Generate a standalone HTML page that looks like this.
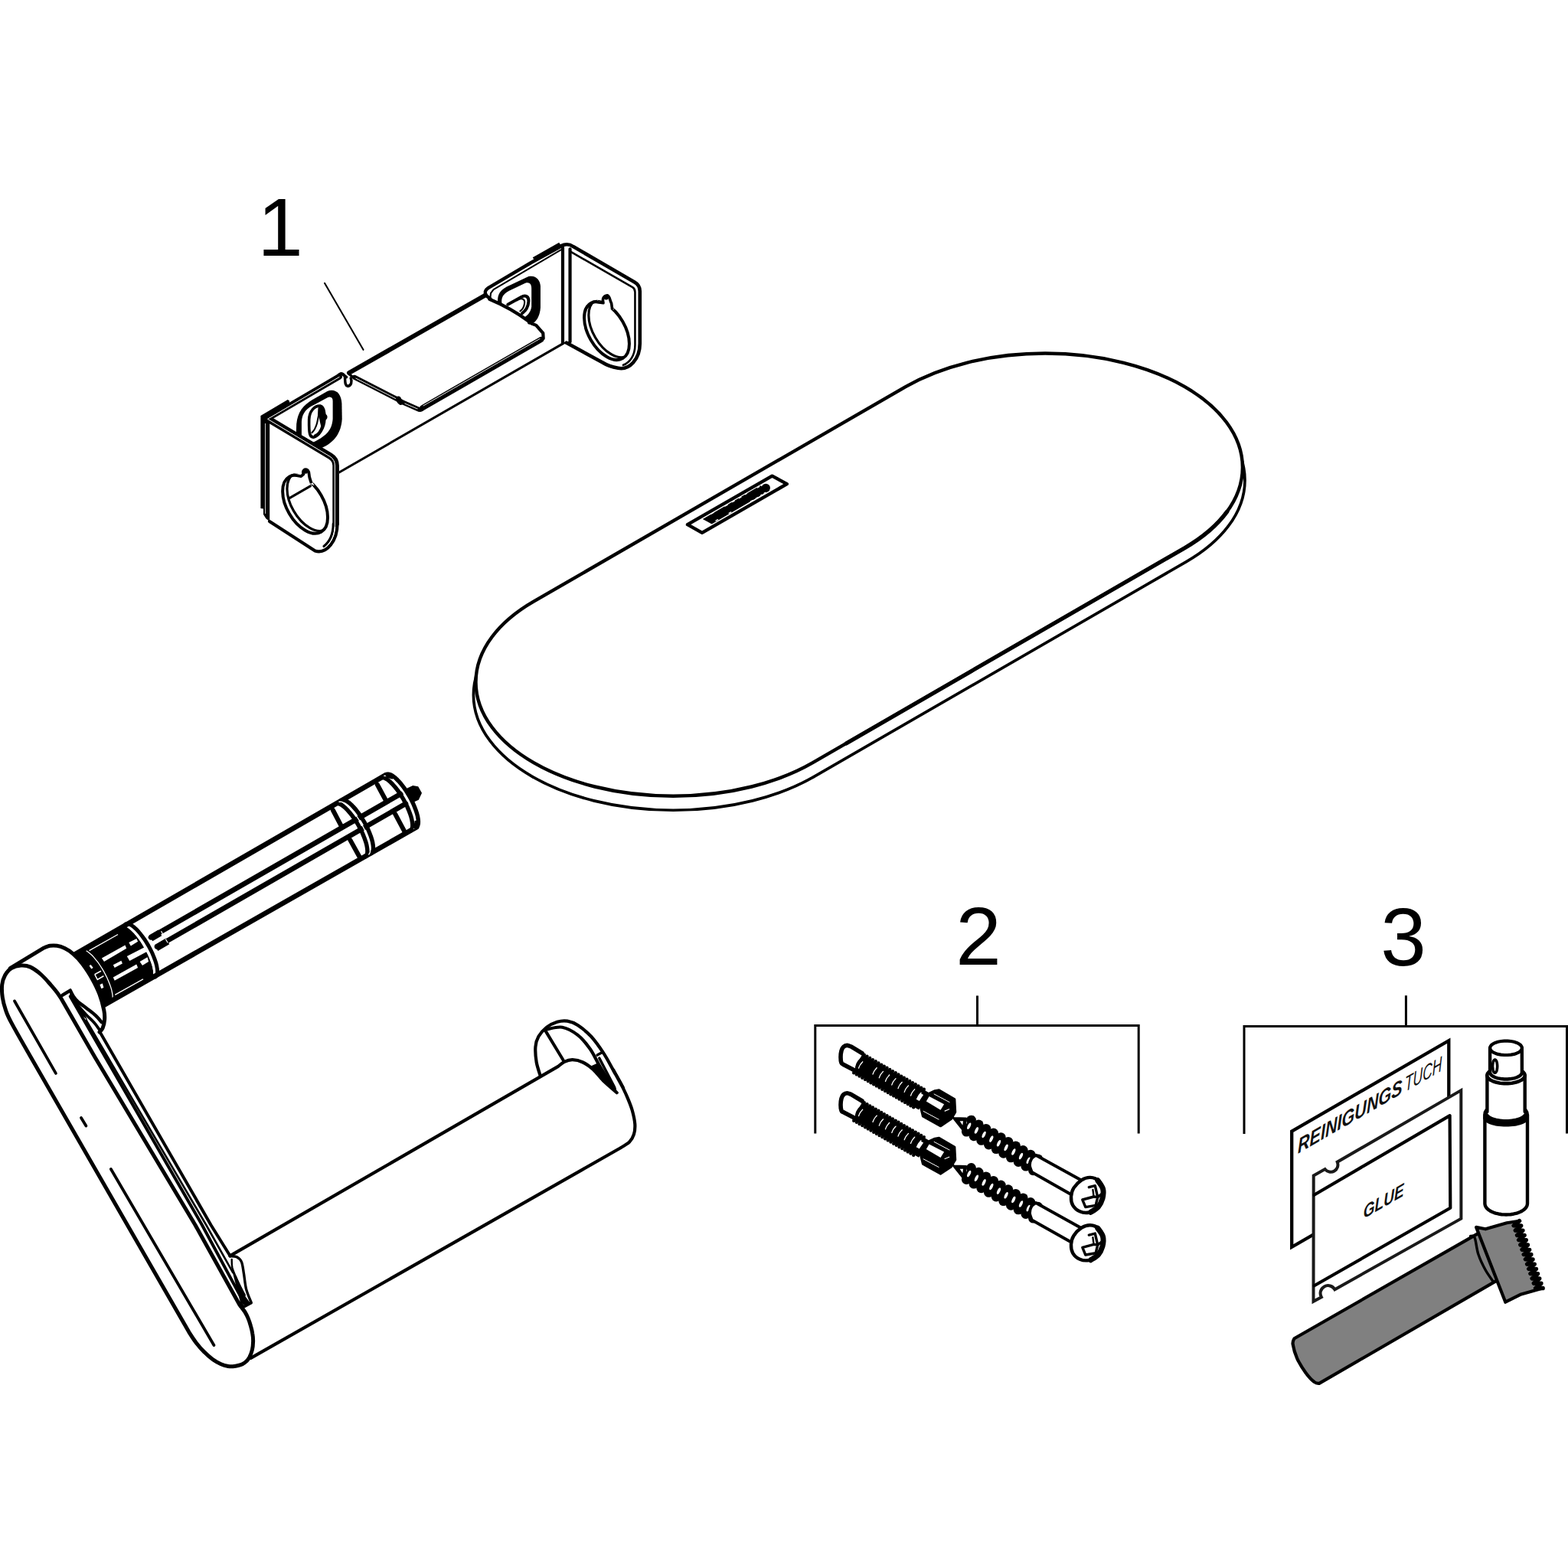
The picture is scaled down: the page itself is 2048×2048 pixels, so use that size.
<!DOCTYPE html>
<html><head><meta charset="utf-8"><title>Exploded view</title>
<style>
html,body{margin:0;padding:0;background:#fff;}
body{width:2048px;height:2048px;overflow:hidden;font-family:"Liberation Sans",sans-serif;}
svg{display:block;position:absolute;left:0;top:0;}
path,line,polyline,polygon,circle,ellipse,rect{vector-effect:non-scaling-stroke;}
.s{fill:none;stroke:#000;stroke-linecap:round;stroke-linejoin:round;}
.k{stroke-width:4.2;}
.m{stroke-width:3.1;}
.n{stroke-width:2.1;}
.w{fill:none;stroke:#fff;stroke-width:1;stroke-linecap:round;}
.f{fill:#000;stroke:none;}
.wf{fill:#fff;stroke:none;}
</style></head><body>
<svg width="2048" height="2048" viewBox="0 0 2048 2048">
<rect x="0" y="0" width="2048" height="2048" fill="#fff"/>
<!--LABELS-->
<g id="labels">
<text x="366" y="334" font-family="'Liberation Sans',sans-serif" font-size="107" fill="#000" text-anchor="middle">1</text>
<path class="s n" d="M424 369.8 L474.5 456.8"/>
</g>
<!--BRACKET-->
<g id="bracket">
<!-- web top edge (left part) + bottom line -->
<path class="s" style="stroke-width:7.6" d="M443.1 491.9 L349 547"/>
<path class="s m" d="M443 617 L736 448.3"/>
<path class="s" style="stroke-width:3.6" d="M441.8 490.2 Q445 486.6 448.4 489.6 L452.5 492.5"/>
<!-- left D slot -->
<g transform="translate(330,480) scale(0.067288)">
<path class="f" d="M845 1270 L850 1100 C870 850 1000 720 1150 630 L1450 460 C1600 400 1720 500 1730 700 L1735 1000 C1720 1250 1600 1450 1340 1560 Z"/>
<path class="wf" d="M950 1320 L950 1050 C960 880 1050 790 1200 720 L1440 590 C1520 550 1555 590 1555 650 L1555 1000 C1540 1200 1450 1320 1180 1450 Z"/>
<path class="s" style="stroke-width:3.6" d="M1095 1010 C1100 850 1200 740 1310 745 C1380 760 1400 850 1395 1000 C1390 1180 1280 1340 1180 1355 C1110 1350 1090 1300 1095 1010 Z"/>
<path class="f" d="M1290 760 C1380 740 1420 850 1410 900 C1470 930 1460 1010 1400 1030 C1400 1100 1370 1150 1340 1180 C1300 1050 1270 900 1290 760 Z"/>
<path class="s n" d="M1285 790 C1290 1000 1230 1200 1150 1265"/>
<path class="s n" d="M1350 1120 C1320 1220 1260 1300 1200 1320"/>
</g>
<!-- right D slot -->
<g transform="translate(600,290) scale(0.134576)">
<path class="f" d="M372 775 C368 700 400 660 460 628 L672 528 C740 512 782 560 787 620 L787 830 C782 900 760 945 722 978 L660 960 Z"/>
<path class="wf" d="M412 790 C402 730 430 695 480 668 L640 592 C690 578 700 612 700 650 L700 820 C695 870 665 905 625 930 L500 880 Z"/>
<path class="s" style="stroke-width:4" d="M470 800 L600 728 C640 705 675 720 672 770 C668 820 645 860 610 885"/>
<path class="s n" d="M560 760 C600 730 640 745 632 790 C628 820 610 850 590 865"/>
</g>
<!-- tongue -->
<path class="wf" d="M455 487.5 L634 385.5 L640 391 L690.5 419.5 L699.5 423.5 L709.3 434.7 L709.7 443 L551 536 L526.1 526 L520.1 522.5 L461 493 Z"/>
<path class="s" style="stroke-width:6" d="M456 487 L634 385.5"/>
<path class="s" style="stroke-width:7.4" d="M552 532.6 L706.5 443.6"/>
<path class="w" style="stroke-width:.9" d="M553 529.9 L705 442.5"/>
<g transform="translate(440,380) scale(0.134576)">
<path class="s" style="stroke-width:6" d="M170 838 L595 1055 L640 1082 L795 1150"/>
<path class="w" style="stroke-width:.9" d="M185 848 L585 1052 M660 1093 L790 1148"/>
<path class="f" d="M575 1030 C600 1010 630 1030 625 1060 C650 1080 640 1115 610 1105 C585 1090 565 1060 575 1030 Z"/>
<path class="s" style="stroke-width:3.4" d="M40 802 Q62 800 75 825 C85 860 70 915 105 925 C140 920 150 880 135 845"/>
<path class="s" style="stroke-width:3.4" d="M125 812 L150 832 L165 836"/>
<path class="s" style="stroke-width:3.6" d="M795 1150 Q812 1170 835 1150"/>
</g>
<g transform="translate(600,290) scale(0.134576)">
<path class="s" style="stroke-width:4.4" d="M292 748 Q500 835 672 962"/>
<circle class="f" cx="682" cy="972" r="22"/>
<path class="s k" d="M700 985 L745 1002 L812 1078 L815 1130"/>
<!-- web upper right -->
<path class="s" style="stroke-width:4.4" d="M300 745 L262 715 Q232 672 280 640 L700 392 L992 232"/>
<path class="s" style="stroke-width:5.5;stroke-linecap:butt" d="M722 362 L978 216"/>
<path class="s n" d="M300 735 L305 690 L332 655 L985 270"/>
<circle class="wf" cx="287" cy="668" r="7"/>
<!-- fold -->
<path class="s k" d="M1003 240 L1003 1168 M1074 262 L1074 1162"/>
<path class="s n" d="M1003 1168 L1040 1178 L1074 1162"/>
<!-- right flange -->
<path class="s" style="stroke-width:4.6" d="M985 232 Q1050 200 1105 238 L1700 583 Q1752 612 1752 672 L1752 1180 C1752 1330 1650 1440 1540 1418 Q1450 1402 1390 1364 L1040 1172"/>
<path class="s" style="stroke-width:2.6" d="M1085 290 L1680 633 Q1705 648 1705 680 L1705 1195 C1705 1300 1650 1365 1590 1388"/>
</g>
<!-- right hole -->
<clipPath id="hR"><circle r="34" transform="matrix(0.866,0.5,0,1,792.5,432)"/></clipPath>
<g clip-path="url(#hR)"><circle class="s" style="stroke-width:3.2" r="34" transform="matrix(0.866,0.5,0,1,798.3,428.7)"/></g>
<circle class="s" style="stroke-width:4" r="34" transform="matrix(0.866,0.5,0,1,792.5,432)"/>
<g transform="translate(600,290) scale(0.134576)">
<path class="wf" d="M1335 760 L1395 780 C1385 745 1400 712 1435 708 C1462 718 1458 750 1478 790 L1500 850 L1400 830 Z"/>
<path class="s" style="stroke-width:3.6" d="M1330 776 L1397 786 C1385 745 1400 714 1435 711 C1462 720 1456 750 1476 790 L1482 835"/>
<circle class="f" cx="1425" cy="735" r="20"/>
</g>
<!-- left flange -->
<path class="wf" d="M352.2 548 L437 597 L443 604 L443 690 L430 712 L411 720 L352.2 682 Z"/>
<path class="f" d="M340.4 543 L375.8 522 L378 523.4 L378 527 L352.2 542 L352.2 681 L347.5 677.5 L344 672 L344 664.5 L340.4 664 Z"/>
<path class="w" style="stroke-width:.8" d="M346.5 553.4 L346.5 670.5"/>
<path class="s" style="stroke-width:4.2" d="M440.6 684 C440.6 706 427 724 411.5 719.5 L352 681"/>
<path class="s" style="stroke-width:8.6" d="M349.4 546.8 L431.4 595.7 Q438.6 600 438.6 608 L438.6 684"/>
<path class="s" style="stroke-width:3.2" d="M435.3 684 C435.3 698 430 708 423 713.5"/>
<path class="w" d="M443.1 492.4 L349.6 547.3 L431 596.3 Q437.4 600.5 437.4 608 L437.4 686 C437.4 698 433 707 428 712"/>
<clipPath id="hL"><circle r="34" transform="matrix(0.866,0.5,0,1,398.6,658.7)"/></clipPath>
<path class="s m" d="M378.5 650.3 L405.4 634.9" clip-path="url(#hL)"/>
<g clip-path="url(#hL)"><circle class="s" style="stroke-width:3.2" r="34" transform="matrix(0.866,0.5,0,1,404.4,655.4)"/></g>
<circle class="s" style="stroke-width:4" r="34" transform="matrix(0.866,0.5,0,1,398.6,658.7)"/>
<g transform="translate(330,470) scale(0.134576)">
<path class="wf" d="M400 1105 L492 1108 C480 1075 505 1050 535 1070 C550 1085 545 1110 552 1140 L600 1220 L480 1170 Z"/>
<path class="s" style="stroke-width:3.8" d="M400 1118 L470 1130 L494 1110 C480 1075 505 1052 535 1072 C550 1087 545 1112 552 1142 L566 1186"/>
<circle class="f" cx="515" cy="1085" r="20"/>
</g>
</g>
<!--SHELF-->
<g id="shelf">
<path class="s" style="stroke-width:3.7;fill:#fff" transform="matrix(0.866,-0.5,0.866,0.5,1122.2,767.4)" d="M-280.5 -213 L280.5 -213 A213 213 0 0 1 280.5 213 L-280.5 213 A213 213 0 0 1 -280.5 -213 Z"/>
<path class="s" style="stroke-width:4.4;fill:#fff" transform="matrix(0.866,-0.5,0.866,0.5,1122.2,750.65)" d="M-280.5 -210.5 L280.5 -210.5 A210.5 210.5 0 0 1 280.5 210.5 L-280.5 210.5 A210.5 210.5 0 0 1 -280.5 -210.5 Z"/>
<path class="s" style="stroke-width:5.2" transform="matrix(0.866,-0.5,0.866,0.5,1122.2,750.65)" d="M-230 210.5 L280.5 210.5 A210.5 210.5 0 0 0 360 195"/>
<!-- logo plate -->
<path class="s" style="stroke-width:4.4" d="M898 685.2 L1008.5 621.6 L1027.8 632.1 L917 695.9 Z"/>
<path class="f" d="M917.8 677.9 L993 634.2 L1005.5 640.3 L929.7 684.5 Z"/>
<circle class="f" cx="1000.3" cy="637.3" r="5.6"/>
<g transform="translate(880,600) scale(0.087992)">
<path class="w" style="stroke-width:1.3" d="M555 810 L590 790 M760 695 L800 672 M870 632 L900 615 M970 575 L1000 560 M1060 520 L1085 505 M1240 420 L1270 405 M625 910 L655 893 M820 800 L850 783 M1140 625 L1170 608 M1220 580 L1245 566 M1290 535 L1310 524 M1340 503 L1360 492"/>
</g>
</g>
<!--HOLDER-->
<g id="holder">
<path class="wf" d="M95.0 1248.1 L504.0 1012.2 L504.8 1011.6 L506.3 1011.1 L508.2 1011.2 L510.3 1011.9 L512.7 1013.2 L515.3 1015.0 L518.0 1017.4 L520.8 1020.3 L523.7 1023.6 L526.6 1027.3 L529.5 1031.3 L532.2 1035.6 L534.9 1040.0 L537.3 1044.6 L539.6 1049.2 L541.5 1053.7 L543.2 1058.1 L544.6 1062.3 L545.6 1066.2 L546.2 1069.8 L546.5 1072.9 L546.4 1075.6 L545.9 1077.8 L545.0 1079.5 L543.8 1080.6 L130.0 1316.1 Z"/>
<path class="f" d="M95.0 1248.1 L158.7 1209.9 L160.2 1209.4 L162.1 1209.5 L164.2 1210.2 L166.6 1211.5 L169.2 1213.4 L171.9 1215.8 L174.7 1218.6 L177.6 1221.9 L180.5 1225.6 L183.4 1229.6 L186.1 1233.9 L188.8 1238.4 L191.2 1242.9 L193.5 1247.5 L195.4 1252.0 L197.1 1256.4 L198.5 1260.6 L199.5 1264.5 L200.1 1268.1 L200.4 1271.3 L200.3 1274.0 L199.8 1276.2 L198.9 1277.8 L197.7 1278.9 L130.0 1316.1 Z"/>
<path class="w" style="stroke-width:1.4;stroke-linecap:butt" d="M116.5 1241.6 L154.0 1220.5"/>
<path class="w" style="stroke-width:1.5;stroke-linecap:butt" d="M150.3 1299.4 L187.0 1278.9"/>
<path class="wf" d="M132.9 1251.6 L163.4 1234.5 L165.2 1238.8 L136.0 1255.9 Z"/>
<path class="wf" d="M168.3 1231.1 L178.3 1226.1 L180.1 1229.8 L170.8 1235.4 Z"/>
<path class="wf" d="M147.8 1260.2 L158.4 1254.7 L159.9 1258.4 L149.7 1264.0 Z"/>
<path class="wf" d="M165.8 1249.1 L195.0 1234.0 L193.2 1242.2 L169.3 1255.0 Z"/>
<path class="wf" d="M182.6 1255.9 L192.5 1250.3 L194.1 1255.9 L186.0 1260.9 Z"/>
<path class="wf" d="M147.8 1276.4 L178.3 1259.6 L180.1 1264.0 L149.7 1280.7 Z"/>
<path class="wf" d="M116.5 1261.2 L118.6 1259.9 L121.7 1264.0 L119.3 1265.5 Z"/>
<path class="wf" d="M130.4 1286.0 L133.9 1284.5 L135.4 1290.1 L132.3 1291.3 Z"/>
<path class="w" style="stroke-width:1.6;stroke-linecap:butt" d="M123.6 1272.7 L132.0 1268.3"/>
<path class="w" style="stroke-width:1.6;stroke-linecap:butt" d="M123.9 1273.0 L127.3 1279.5 L135.4 1274.8"/>
<path class="w" style="stroke-width:1.3" d="M107.2 1240.0 L108.9 1240.1 L110.8 1240.7 L112.9 1241.8 L115.2 1243.4 L117.6 1245.4 L120.2 1247.8 L122.8 1250.6 L125.4 1253.8 L128.1 1257.2 L130.7 1261.0 L133.2 1264.9 L135.6 1268.9 L137.8 1273.1 L139.9 1277.3 L141.7 1281.4 L143.3 1285.5 L144.7 1289.4 L145.8 1293.1 L146.5 1296.5 L147.0 1299.6 L147.2 1302.4 L147.0 1304.8 L146.6 1306.8 L145.8 1308.3"/>
<path class="w" style="stroke-width:1.5" d="M159.9 1209.3 L161.5 1209.1 L163.4 1209.4 L165.5 1210.2 L167.9 1211.6 L170.4 1213.5 L173.0 1215.9 L175.8 1218.8 L178.6 1222.1 L181.4 1225.7 L184.2 1229.6 L186.8 1233.7 L189.4 1238.0 L191.7 1242.4 L193.9 1246.9 L195.8 1251.2 L197.5 1255.5 L198.9 1259.6 L199.9 1263.4 L200.6 1267.0 L200.9 1270.1 L200.9 1272.9 L200.6 1275.2 L199.9 1277.0 L198.8 1278.2"/>
<path class="s" style="stroke-width:5" d="M163.9 1207.0 L165.4 1206.5 L167.3 1206.6 L169.4 1207.3 L171.8 1208.5 L174.4 1210.4 L177.1 1212.8 L179.9 1215.6 L182.8 1219.0 L185.7 1222.7 L188.6 1226.7 L191.3 1230.9 L194.0 1235.4 L196.4 1239.9 L198.7 1244.5 L200.6 1249.1 L202.3 1253.5 L203.7 1257.6 L204.7 1261.6 L205.3 1265.1 L205.6 1268.3 L205.5 1271.0 L205.0 1273.2 L204.1 1274.9 L202.9 1276.0"/>
<path class="s" style="stroke-width:6.6" d="M95.0 1248.1 L504.0 1012.2"/>
<path class="s" style="stroke-width:6.6" d="M130.0 1316.1 L544.0 1080.4"/>
<path class="s" style="stroke-width:6.6" d="M197.0 1224.3 L523.5 1036.9"/>
<path class="s" style="stroke-width:6.6" d="M205.0 1236.5 L530.0 1049.7"/>
<path class="s" style="stroke-width:9;stroke-linecap:butt" d="M197.0 1225.3 L209.0 1218.4"/>
<path class="s" style="stroke-width:9;stroke-linecap:butt" d="M204.0 1238.1 L219.0 1229.4"/>
<path class="w" style="stroke-width:1.2" d="M210.8 1216.5 L212.7 1220.6"/>
<path class="w" style="stroke-width:1.2" d="M216.4 1226.8 L218.9 1231.0"/>
<path class="s" style="stroke-width:6" d="M434.8 1058.0 L445.6 1078.7"/>
<path class="s" style="stroke-width:6" d="M457.2 1096.9 L469.6 1119.3"/>
<path class="s" style="stroke-width:6" d="M492.8 1024.8 L503.6 1044.7"/>
<path class="s" style="stroke-width:6" d="M516.0 1062.9 L528.4 1086.1"/>
<path class="s" style="stroke-width:5.4" d="M438.2 1049.8 L439.7 1049.3 L441.6 1049.4 L443.7 1050.1 L446.1 1051.3 L448.7 1053.2 L451.4 1055.6 L454.2 1058.4 L457.1 1061.8 L460.0 1065.4 L462.9 1069.5 L465.6 1073.7 L468.3 1078.2 L470.7 1082.7 L473.0 1087.3 L474.9 1091.9 L476.6 1096.3 L478.0 1100.4 L479.0 1104.4 L479.6 1107.9 L479.9 1111.1 L479.8 1113.8 L479.3 1116.0 L478.4 1117.7 L477.2 1118.8"/>
<path class="s" style="stroke-width:5.4" d="M445.8 1045.4 L447.3 1044.9 L449.2 1045.0 L451.3 1045.7 L453.7 1047.0 L456.3 1048.8 L459.0 1051.2 L461.8 1054.1 L464.7 1057.4 L467.6 1061.1 L470.5 1065.1 L473.2 1069.4 L475.9 1073.8 L478.3 1078.4 L480.6 1083.0 L482.5 1087.5 L484.2 1091.9 L485.6 1096.1 L486.6 1100.0 L487.2 1103.6 L487.5 1106.7 L487.4 1109.4 L486.9 1111.7 L486.0 1113.3 L484.8 1114.4"/>
<path class="w" style="stroke-width:1.4" d="M443.0 1047.2 L444.6 1047.1 L446.6 1047.5 L448.7 1048.4 L451.0 1049.9 L453.5 1051.9 L456.1 1054.3 L458.8 1057.1 L461.5 1060.4 L464.3 1063.9 L467.0 1067.8 L469.6 1071.8 L472.1 1076.0 L474.4 1080.3 L476.5 1084.6 L478.4 1088.9 L480.1 1093.1 L481.4 1097.1 L482.5 1100.9 L483.2 1104.4 L483.6 1107.6 L483.7 1110.3 L483.4 1112.7 L482.8 1114.5 L481.8 1115.9"/>
<path class="s" style="stroke-width:5.4" d="M497.1 1016.0 L498.6 1015.5 L500.5 1015.6 L502.6 1016.3 L505.0 1017.6 L507.6 1019.4 L510.3 1021.8 L513.1 1024.7 L516.0 1028.0 L518.9 1031.7 L521.8 1035.7 L524.5 1040.0 L527.2 1044.4 L529.6 1049.0 L531.9 1053.6 L533.8 1058.1 L535.5 1062.5 L536.9 1066.7 L537.9 1070.6 L538.5 1074.2 L538.8 1077.3 L538.7 1080.0 L538.2 1082.3 L537.3 1083.9 L536.1 1085.0"/>
<path class="s" style="stroke-width:5.4" d="M504.7 1011.6 L506.2 1011.1 L508.1 1011.2 L510.2 1011.9 L512.6 1013.2 L515.2 1015.1 L517.9 1017.5 L520.7 1020.3 L523.6 1023.6 L526.5 1027.3 L529.4 1031.4 L532.1 1035.6 L534.8 1040.1 L537.2 1044.6 L539.5 1049.2 L541.4 1053.7 L543.1 1058.1 L544.5 1062.3 L545.5 1066.2 L546.1 1069.8 L546.4 1073.0 L546.3 1075.7 L545.8 1077.9 L544.9 1079.6 L543.7 1080.6"/>
<path class="w" style="stroke-width:1.4" d="M501.9 1013.4 L503.5 1013.3 L505.5 1013.7 L507.6 1014.7 L509.9 1016.2 L512.4 1018.1 L515.0 1020.5 L517.7 1023.4 L520.4 1026.6 L523.2 1030.2 L525.9 1034.0 L528.5 1038.0 L531.0 1042.3 L533.3 1046.6 L535.4 1050.9 L537.3 1055.2 L539.0 1059.4 L540.3 1063.4 L541.4 1067.2 L542.1 1070.7 L542.5 1073.8 L542.6 1076.6 L542.3 1078.9 L541.7 1080.8 L540.7 1082.2"/>
<path class="f" d="M529.3 1030.8 L539.2 1026.1 L546.2 1027.2 L551.0 1035.8 L546.8 1044.7 L539.4 1047.9 L534.2 1039.8 Z" stroke="#000" stroke-width="2" stroke-linejoin="round"/>
<path class="f" d="M541.7 1072.0 L546.6 1071.2 L547.1 1079.5 L543.3 1083.6 L540.0 1082.0 Z"/>
<path class="f" d="M501.9 1009.9 L506.9 1008.7 L514.3 1014.1 L512.7 1017.8 L505.2 1015.7 Z"/>
<path class="s" style="stroke-width:4.2;fill:#fff" d="M706.1 1406.3 C705.2 1403.2 701.9 1394.0 700.7 1387.5 C699.6 1381.0 699.0 1372.9 699.4 1367.3 C699.8 1361.7 701.0 1358.1 703.4 1353.8 C705.9 1349.6 710.2 1344.9 714.2 1341.7 C718.2 1338.5 723.2 1336.1 727.7 1334.7 C732.1 1333.4 736.6 1332.9 741.1 1333.6 C745.6 1334.4 749.4 1335.7 754.6 1339.0 C759.7 1342.4 766.5 1347.8 772.1 1353.8 C777.7 1359.9 783.4 1368.1 788.2 1375.4 C793.0 1382.7 796.7 1390.1 801.0 1397.6 C805.3 1405.1 811.7 1416.6 813.8 1420.4"/>
<path class="s" style="stroke-width:4.2" d="M714.2 1344.4 C717.6 1344.0 727.7 1340.5 734.4 1341.7 C741.1 1343.0 748.5 1347.1 754.6 1351.8 C760.6 1356.5 766.0 1363.4 770.7 1370.0 C775.4 1376.6 779.0 1385.0 782.8 1391.5 C786.6 1398.0 789.9 1403.2 793.6 1409.0 C797.3 1414.8 803.1 1423.6 805.0 1426.5"/>
<path class="s" style="stroke-width:4" d="M712.9 1347.1 L735.7 1384.8"/>
<path class="s" style="stroke-width:3.4" d="M780.1 1378.1 L787.5 1374.0"/>
<path class="s" style="stroke-width:3.4" d="M782.8 1382.1 L806.4 1427.2 L813.8 1421.8"/>
<path class="wf" d="M300.3 1640.4 L729.0 1392.9 C730.4 1391.8 733.9 1388.3 737.1 1386.8 C740.2 1385.3 743.8 1384.0 747.8 1384.1 C751.9 1384.2 756.8 1385.3 761.3 1387.5 C765.8 1389.6 770.3 1392.9 774.8 1396.9 C779.2 1400.9 783.1 1406.7 788.2 1411.7 C793.4 1416.7 802.8 1424.6 805.7 1427.2 L801.0 1397.6 C803.1 1401.5 810.5 1414.7 813.8 1421.1 C817.0 1427.5 818.5 1431.0 820.5 1435.9 C822.5 1440.9 824.4 1445.3 825.9 1450.7 C827.4 1456.1 828.9 1463.1 829.3 1468.2 C829.6 1473.4 829.2 1477.8 827.9 1481.7 C826.7 1485.6 825.1 1488.6 821.9 1491.8 C818.6 1494.9 810.6 1499.1 808.4 1500.5 L327.5 1773.9 Z"/>
<path class="f" d="M770.7 1392.9 L788.2 1411.7 L805.7 1427.2 L794.9 1409.7 L781.5 1388.1 Z"/>
<path class="s" style="stroke-width:4.2" d="M300.3 1640.4 L729.0 1392.9 C730.4 1391.8 733.9 1388.3 737.1 1386.8 C740.2 1385.3 743.8 1384.0 747.8 1384.1 C751.9 1384.2 756.8 1385.3 761.3 1387.5 C765.8 1389.6 770.3 1392.9 774.8 1396.9 C779.2 1400.9 783.1 1406.7 788.2 1411.7 C793.4 1416.7 802.8 1424.6 805.7 1427.2"/>
<path class="s" style="stroke-width:4.2" d="M801.0 1397.6 C803.1 1401.5 810.5 1414.7 813.8 1421.1 C817.0 1427.5 818.5 1431.0 820.5 1435.9 C822.5 1440.9 824.4 1445.3 825.9 1450.7 C827.4 1456.1 828.9 1463.1 829.3 1468.2 C829.6 1473.4 829.2 1477.8 827.9 1481.7 C826.7 1485.6 825.1 1488.6 821.9 1491.8 C818.6 1494.9 810.6 1499.1 808.4 1500.5 L327.5 1773.9"/>
<path class="s" style="stroke:none;fill:#fff" d="M13.3 1264.7 L56.3 1238.6 C57.8 1238.0 62.4 1235.8 65.4 1235.3 C68.4 1234.8 71.3 1234.8 74.5 1235.3 C77.7 1235.8 81.0 1236.9 84.5 1238.6 C88.0 1240.3 91.3 1242.3 95.2 1245.7 C99.1 1249.1 103.6 1253.5 107.7 1258.9 C111.8 1264.3 116.4 1271.4 120.1 1278.0 C123.8 1284.6 127.4 1291.8 130.0 1298.7 C132.6 1305.6 134.7 1313.9 135.8 1319.4 C136.9 1324.9 136.9 1327.9 136.6 1331.8 C136.3 1335.7 135.3 1339.9 134.2 1342.6 C133.1 1345.3 130.7 1347.1 130.0 1348.0 L112 1332 L81.4 1301.4 L30 1262 Z"/>
<path class="s" style="stroke-width:5" d="M13.3 1264.7 L56.3 1238.6 C57.8 1238.0 62.4 1235.8 65.4 1235.3 C68.4 1234.8 71.3 1234.8 74.5 1235.3 C77.7 1235.8 81.0 1236.9 84.5 1238.6 C88.0 1240.3 91.3 1242.3 95.2 1245.7 C99.1 1249.1 103.6 1253.5 107.7 1258.9 C111.8 1264.3 116.4 1271.4 120.1 1278.0 C123.8 1284.6 127.4 1291.8 130.0 1298.7 C132.6 1305.6 134.7 1313.9 135.8 1319.4 C136.9 1324.9 136.9 1327.9 136.6 1331.8 C136.3 1335.7 135.3 1339.9 134.2 1342.6 C133.1 1345.3 130.7 1347.1 130.0 1348.0"/>
<path class="f" d="M91.8 1294.2 L98.0 1304.5 L106.3 1315.9 L114.5 1332.5 L107.3 1326.3 L95.9 1309.7 L90.7 1301.4 Z"/>
<path class="s" style="stroke-width:4.4" d="M81.4 1299.9 L91.8 1293.6 M91.8 1293.6 C92.4 1294.9 94.2 1298.9 95.9 1301.4 C97.6 1303.9 99.4 1306.2 102.1 1308.7 C104.9 1311.2 108.7 1313.5 112.5 1316.4 C116.3 1319.4 121.5 1323.1 124.9 1326.3 C128.3 1329.4 131.4 1333.6 132.7 1335.1"/>
<path class="s" style="stroke-width:3.8" d="M93.8 1303.5 C95.2 1305.2 99.0 1310.2 102.1 1313.8 C105.2 1317.5 109.0 1321.6 112.5 1325.2 C115.9 1328.8 120.0 1332.4 122.8 1335.6 C125.7 1338.8 128.4 1342.9 129.5 1344.4"/>
<path class="s" style="stroke-width:4" d="M91.8 1301.4 L263.9 1600.0 L317.4 1699.4"/>
<path class="s" style="stroke-width:2.6" d="M112.5 1332.5 L269.3 1600.0 L304.2 1662.1"/>
<path class="s" style="stroke-width:4" d="M131.1 1349.0 L275.5 1600.0 L300.8 1640.7"/>
<path class="s" style="stroke-width:5;fill:#fff" d="M79.5 1303.6 C78.7 1302.4 76.7 1299.1 74.5 1296.2 C72.3 1293.3 69.8 1290.2 66.3 1286.3 C62.8 1282.4 58.2 1276.9 53.8 1273.0 C49.4 1269.1 44.2 1265.1 39.8 1263.1 C35.4 1261.1 31.4 1260.7 27.3 1261.0 C23.2 1261.3 18.4 1262.6 14.9 1264.7 C11.4 1266.8 8.6 1270.2 6.6 1273.8 C4.6 1277.4 3.2 1281.5 2.7 1286.3 C2.2 1291.1 2.5 1297.3 3.3 1302.8 C4.1 1308.3 5.6 1313.9 7.5 1319.4 C9.4 1324.9 9.5 1325.8 14.9 1335.9 C20.3 1346.0 35.6 1372.7 39.8 1380.0 L246.8 1739.8 C248.3 1742.1 252.7 1749.3 256.1 1753.7 C259.5 1758.1 263.3 1762.5 267.0 1766.1 C270.6 1769.8 274.2 1772.9 277.8 1775.5 C281.4 1778.1 285.3 1780.2 288.7 1781.7 C292.1 1783.2 295.4 1784.0 298.0 1784.5 C300.6 1785.0 302.0 1784.9 304.2 1784.8 C306.4 1784.6 309.1 1784.1 311.2 1783.5 C313.3 1783.0 314.8 1782.6 316.6 1781.7 C318.5 1780.7 320.5 1779.3 322.1 1777.8 C323.6 1776.2 324.7 1774.8 326.0 1772.4 C327.2 1769.9 328.6 1766.4 329.4 1763.0 C330.2 1759.7 330.5 1755.7 330.6 1752.2 C330.7 1748.7 330.4 1745.4 329.8 1742.1 C329.3 1738.7 328.5 1735.4 327.5 1732.0 C326.6 1728.6 325.4 1725.0 324.1 1721.9 C322.8 1718.8 321.6 1716.3 319.8 1713.4 C317.9 1710.4 314.1 1705.8 312.9 1704.3 L255 1600 L123.5 1380 Z"/>
<path class="s" style="stroke-width:3.8" d="M19.0 1307.5 L72.9 1401.9"/>
<path class="s" style="stroke-width:3.8" d="M106.0 1459.9 L112.4 1470.5"/>
<path class="s" style="stroke-width:3.8" d="M144.9 1527.0 L279.4 1757.0"/>
<path class="s" style="stroke-width:3.4;fill:#fff" d="M300.8 1640.7 C302.2 1640.8 306.4 1640.4 308.9 1641.6 C311.3 1642.9 313.8 1644.5 315.4 1648.1 C317.0 1651.8 317.5 1657.7 318.5 1663.7 C319.5 1669.6 320.0 1677.5 321.6 1683.9 C323.2 1690.2 327.2 1698.7 328.3 1701.7 L318.5 1707.1 L313.9 1701.2"/>
<path class="f" d="M303.4 1660.6 L308.9 1666.8 L320.5 1693.2 L326.7 1701.7 L319.8 1705.6 L313.5 1699.4 Z"/>
<path class="s" style="stroke-width:2.4" d="M302.7 1645.0 C302.8 1646.8 302.4 1651.8 303.4 1655.9 C304.5 1660.0 306.2 1663.9 308.9 1669.9 C311.6 1675.8 317.9 1688.0 319.8 1691.6"/>
</g>
<!--SCREWS-->
<g id="screws">
<text x="1278" y="1260" font-family="'Liberation Sans',sans-serif" font-size="107" fill="#000" text-anchor="middle">2</text>
<path class="s" style="stroke-width:3;stroke-linecap:butt;stroke-linejoin:miter" d="M1276.5 1300.4 L1276.5 1339.4 M1064.8 1480.5 L1064.8 1339.4 L1487.2 1339.4 L1487.2 1480.5"/>
<g transform="translate(0,0.0)">
<path class="s" style="stroke-width:26;stroke-linecap:butt" d="M1119.9 1388.2 L1206.5 1438.2"/>
<circle class="f" cx="1128.8" cy="1377.7" r="2.2"/>
<circle class="f" cx="1115.2" cy="1401.3" r="2.2"/>
<circle class="f" cx="1132.5" cy="1379.8" r="2.2"/>
<circle class="f" cx="1118.9" cy="1403.4" r="2.2"/>
<circle class="f" cx="1136.2" cy="1382.0" r="2.2"/>
<circle class="f" cx="1122.6" cy="1405.6" r="2.2"/>
<circle class="f" cx="1139.9" cy="1384.1" r="2.2"/>
<circle class="f" cx="1126.3" cy="1407.7" r="2.2"/>
<circle class="f" cx="1143.7" cy="1386.3" r="2.2"/>
<circle class="f" cx="1130.1" cy="1409.9" r="2.2"/>
<circle class="f" cx="1147.4" cy="1388.4" r="2.2"/>
<circle class="f" cx="1133.8" cy="1412.0" r="2.2"/>
<circle class="f" cx="1151.1" cy="1390.6" r="2.2"/>
<circle class="f" cx="1137.5" cy="1414.2" r="2.2"/>
<circle class="f" cx="1154.8" cy="1392.7" r="2.2"/>
<circle class="f" cx="1141.2" cy="1416.3" r="2.2"/>
<circle class="f" cx="1158.5" cy="1394.8" r="2.2"/>
<circle class="f" cx="1144.9" cy="1418.4" r="2.2"/>
<circle class="f" cx="1162.2" cy="1397.0" r="2.2"/>
<circle class="f" cx="1148.6" cy="1420.6" r="2.2"/>
<circle class="f" cx="1165.9" cy="1399.1" r="2.2"/>
<circle class="f" cx="1152.3" cy="1422.7" r="2.2"/>
<circle class="f" cx="1169.7" cy="1401.3" r="2.2"/>
<circle class="f" cx="1156.1" cy="1424.9" r="2.2"/>
<circle class="f" cx="1173.4" cy="1403.4" r="2.2"/>
<circle class="f" cx="1159.8" cy="1427.0" r="2.2"/>
<circle class="f" cx="1177.1" cy="1405.6" r="2.2"/>
<circle class="f" cx="1163.5" cy="1429.2" r="2.2"/>
<circle class="f" cx="1180.8" cy="1407.7" r="2.2"/>
<circle class="f" cx="1167.2" cy="1431.3" r="2.2"/>
<circle class="f" cx="1184.5" cy="1409.8" r="2.2"/>
<circle class="f" cx="1170.9" cy="1433.4" r="2.2"/>
<circle class="f" cx="1188.2" cy="1412.0" r="2.2"/>
<circle class="f" cx="1174.6" cy="1435.6" r="2.2"/>
<circle class="f" cx="1191.9" cy="1414.1" r="2.2"/>
<circle class="f" cx="1178.3" cy="1437.7" r="2.2"/>
<circle class="f" cx="1195.7" cy="1416.3" r="2.2"/>
<circle class="f" cx="1182.1" cy="1439.9" r="2.2"/>
<circle class="f" cx="1199.4" cy="1418.4" r="2.2"/>
<circle class="f" cx="1185.8" cy="1442.0" r="2.2"/>
<circle class="f" cx="1203.1" cy="1420.6" r="2.2"/>
<circle class="f" cx="1189.5" cy="1444.2" r="2.2"/>
<circle class="f" cx="1206.8" cy="1422.7" r="2.2"/>
<circle class="f" cx="1193.2" cy="1446.3" r="2.2"/>
<path class="s" style="stroke-width:5.6;fill:#fff" d="M1126.0 1375.6 L1112.0 1367.2 C1111.1 1366.9 1108.1 1365.4 1106.4 1365.4 C1104.7 1365.4 1103.0 1366.1 1101.8 1367.2 C1100.5 1368.4 1099.6 1370.1 1099.0 1372.4 C1098.4 1374.6 1098.0 1378.1 1098.0 1380.7 C1098.0 1383.4 1098.4 1386.6 1099.0 1388.2 C1099.5 1389.8 1100.9 1389.9 1101.3 1390.2 L1115.7 1397.7"/>
<path class="s" style="stroke-width:5" d="M1128.8 1380.7 C1127.7 1381.8 1123.8 1385.1 1122.3 1387.3 C1120.7 1389.4 1119.8 1391.6 1119.5 1393.8 C1119.2 1396.0 1120.2 1399.2 1120.4 1400.3"/>
<path class="w" style="stroke-width:1.3" d="M1121.5 1395.2 C1121.8 1394.5 1122.5 1392.4 1123.4 1391.0 C1124.3 1389.6 1126.2 1387.5 1126.7 1386.8"/>
<path class="w" style="stroke-width:1.3" d="M1140.0 1403.1 C1140.3 1402.4 1141.0 1400.3 1141.9 1398.9 C1142.7 1397.5 1144.7 1395.4 1145.2 1394.7"/>
<path class="w" style="stroke-width:1.3" d="M1148.3 1407.8 C1148.6 1407.1 1149.3 1405.0 1150.1 1403.6 C1151.0 1402.2 1152.9 1400.1 1153.5 1399.4"/>
<path class="w" style="stroke-width:1.3" d="M1156.5 1412.4 C1156.8 1411.7 1157.5 1409.6 1158.4 1408.2 C1159.2 1406.8 1161.2 1404.7 1161.7 1404.0"/>
<path class="w" style="stroke-width:1.3" d="M1164.8 1417.1 C1165.1 1416.4 1165.7 1414.3 1166.6 1412.9 C1167.5 1411.5 1169.4 1409.4 1170.0 1408.7"/>
<path class="w" style="stroke-width:1.3" d="M1173.0 1421.7 C1173.3 1421.0 1174.0 1418.9 1174.9 1417.5 C1175.7 1416.1 1177.7 1414.1 1178.2 1413.4"/>
<path class="w" style="stroke-width:1.3" d="M1181.2 1426.4 C1181.6 1425.7 1182.2 1423.6 1183.1 1422.2 C1184.0 1420.8 1185.9 1418.7 1186.5 1418.0"/>
<path class="w" style="stroke-width:1.3" d="M1189.5 1431.1 C1189.8 1430.4 1190.5 1428.3 1191.4 1426.9 C1192.2 1425.5 1194.1 1423.4 1194.7 1422.7"/>
<path class="w" style="stroke-width:1.3" d="M1197.7 1435.7 C1198.0 1435.0 1198.7 1432.9 1199.6 1431.5 C1200.5 1430.1 1202.4 1428.0 1203.0 1427.3"/>
<path class="wf" d="M1196.8 1435.7 L1202.2 1427.8 L1206.1 1430.1 L1200.7 1438.0 Z"/>
<path class="f" style="stroke:#000;stroke-width:2.5;stroke-linejoin:round" d="M1226.6 1423.6 L1247.1 1435.7 L1248.0 1452.5 L1242.5 1461.8 L1228.5 1471.1 L1205.2 1458.1 L1201.5 1443.2 L1208.9 1430.1 L1221.0 1424.5 Z"/>
<path class="wf" d="M1213.6 1432.0 L1233.1 1442.2 L1228.5 1449.7 L1209.8 1438.5 Z"/>
<path class="w" style="stroke-width:1" d="M1220.1 1429.0 L1240.1 1439.6"/>
<path class="w" style="stroke-width:1" d="M1206.1 1451.4 L1226.1 1462.1"/>
<path class="w" style="stroke-width:1.2" d="M1234.1 1451.1 L1239.7 1448.8"/>
<path class="f" style="stroke:#000;stroke-width:2.5;stroke-linejoin:round" d="M1241.8 1455.9 L1245.8 1460.3 L1261.8 1460.8 L1259.5 1478.1 Z"/>
<path class="wf" d="M1253.6 1464.3 L1258.0 1464.3 L1257.3 1469.8 Z"/>
<path class="s" style="stroke-width:19;stroke-linecap:butt" d="M1261.8 1468.5 L1347.2 1518.6"/>
<circle class="f" cx="1268.5" cy="1463.1" r="6.4"/>
<circle class="f" cx="1262.3" cy="1478.1" r="6.4"/>
<circle class="f" cx="1278.2" cy="1468.8" r="6.4"/>
<circle class="f" cx="1272.0" cy="1483.8" r="6.4"/>
<circle class="f" cx="1287.9" cy="1474.4" r="6.4"/>
<circle class="f" cx="1281.7" cy="1489.4" r="6.4"/>
<circle class="f" cx="1297.6" cy="1480.0" r="6.4"/>
<circle class="f" cx="1291.4" cy="1495.0" r="6.4"/>
<circle class="f" cx="1307.3" cy="1485.6" r="6.4"/>
<circle class="f" cx="1301.1" cy="1500.6" r="6.4"/>
<circle class="f" cx="1316.9" cy="1491.3" r="6.4"/>
<circle class="f" cx="1310.7" cy="1506.3" r="6.4"/>
<circle class="f" cx="1326.6" cy="1496.9" r="6.4"/>
<circle class="f" cx="1320.4" cy="1511.9" r="6.4"/>
<circle class="f" cx="1336.3" cy="1502.5" r="6.4"/>
<circle class="f" cx="1330.1" cy="1517.5" r="6.4"/>
<circle class="f" cx="1346.0" cy="1508.1" r="6.4"/>
<circle class="f" cx="1339.8" cy="1523.1" r="6.4"/>
<circle class="f" cx="1355.7" cy="1513.8" r="6.4"/>
<circle class="f" cx="1349.5" cy="1528.8" r="6.4"/>
<ellipse class="wf" cx="1265.7" cy="1470.7" rx="1.9" ry="4.6" transform="rotate(24 1265.7 1470.7)"/>
<ellipse class="wf" cx="1275.4" cy="1476.4" rx="1.9" ry="4.6" transform="rotate(24 1275.4 1476.4)"/>
<ellipse class="wf" cx="1285.1" cy="1482.0" rx="1.9" ry="4.6" transform="rotate(24 1285.1 1482.0)"/>
<ellipse class="wf" cx="1294.8" cy="1487.6" rx="1.9" ry="4.6" transform="rotate(24 1294.8 1487.6)"/>
<ellipse class="wf" cx="1304.5" cy="1493.2" rx="1.9" ry="4.6" transform="rotate(24 1304.5 1493.2)"/>
<ellipse class="wf" cx="1314.1" cy="1498.9" rx="1.9" ry="4.6" transform="rotate(24 1314.1 1498.9)"/>
<ellipse class="wf" cx="1323.8" cy="1504.5" rx="1.9" ry="4.6" transform="rotate(24 1323.8 1504.5)"/>
<ellipse class="wf" cx="1333.5" cy="1510.1" rx="1.9" ry="4.6" transform="rotate(24 1333.5 1510.1)"/>
<ellipse class="wf" cx="1343.2" cy="1515.7" rx="1.9" ry="4.6" transform="rotate(24 1343.2 1515.7)"/>
<path class="s" style="stroke-width:4;fill:#fff" d="M1410.9 1540.8 L1352.9 1508.7  L1352.9 1508.7 C1351.9 1509.5 1348.5 1511.2 1347.2 1513.4 C1345.8 1515.7 1344.8 1519.0 1344.9 1522.0 C1345.0 1524.9 1347.3 1529.6 1347.7 1531.1 L1400.1 1560.7"/>
<path class="s" style="stroke-width:4.4;fill:#fff" d="M1412.6 1541.3 C1416.2 1539.1 1420.2 1537.7 1424.0 1537.9 C1427.8 1538.1 1432.6 1539.8 1435.4 1542.5 C1438.3 1545.1 1440.3 1550.1 1441.1 1553.9 C1441.9 1557.7 1441.1 1561.5 1440.0 1565.3 C1438.8 1569.1 1437.1 1573.6 1434.3 1576.6 C1431.4 1579.7 1426.9 1582.5 1422.9 1583.5 C1418.9 1584.4 1414.0 1583.9 1410.4 1582.3 C1406.8 1580.8 1403.2 1577.6 1401.3 1574.4 C1399.4 1571.1 1398.8 1566.8 1399.0 1563.0 C1399.2 1559.2 1400.1 1555.2 1402.4 1551.6 C1404.7 1548.0 1409.0 1543.6 1412.6 1541.3 Z"/>
<path class="s" style="stroke-width:7" d="M1433.7 1541.7 C1434.8 1543.5 1439.5 1548.8 1440.5 1552.7 C1441.6 1556.7 1441.0 1561.3 1440.0 1565.3 C1438.9 1569.2 1436.8 1573.6 1434.3 1576.6 C1431.7 1579.6 1426.2 1582.1 1424.6 1583.3"/>
<path class="s" style="stroke-width:3.4" d="M1422.3 1550.7 L1430.3 1548.7 L1433.7 1563.6 L1438.8 1559.6"/>
<path class="s" style="stroke-width:3.4" d="M1413.8 1567.0 L1428.6 1563.0 L1433.7 1563.6 L1431.1 1574.4 L1417.8 1576.6 L1413.8 1567.0"/>
<path class="s" style="stroke-width:2.4" d="M1427.4 1553.9 L1428.6 1563.0"/>
</g>
<g transform="translate(0,62.4)">
<path class="s" style="stroke-width:26;stroke-linecap:butt" d="M1119.9 1388.2 L1206.5 1438.2"/>
<circle class="f" cx="1128.8" cy="1377.7" r="2.2"/>
<circle class="f" cx="1115.2" cy="1401.3" r="2.2"/>
<circle class="f" cx="1132.5" cy="1379.8" r="2.2"/>
<circle class="f" cx="1118.9" cy="1403.4" r="2.2"/>
<circle class="f" cx="1136.2" cy="1382.0" r="2.2"/>
<circle class="f" cx="1122.6" cy="1405.6" r="2.2"/>
<circle class="f" cx="1139.9" cy="1384.1" r="2.2"/>
<circle class="f" cx="1126.3" cy="1407.7" r="2.2"/>
<circle class="f" cx="1143.7" cy="1386.3" r="2.2"/>
<circle class="f" cx="1130.1" cy="1409.9" r="2.2"/>
<circle class="f" cx="1147.4" cy="1388.4" r="2.2"/>
<circle class="f" cx="1133.8" cy="1412.0" r="2.2"/>
<circle class="f" cx="1151.1" cy="1390.6" r="2.2"/>
<circle class="f" cx="1137.5" cy="1414.2" r="2.2"/>
<circle class="f" cx="1154.8" cy="1392.7" r="2.2"/>
<circle class="f" cx="1141.2" cy="1416.3" r="2.2"/>
<circle class="f" cx="1158.5" cy="1394.8" r="2.2"/>
<circle class="f" cx="1144.9" cy="1418.4" r="2.2"/>
<circle class="f" cx="1162.2" cy="1397.0" r="2.2"/>
<circle class="f" cx="1148.6" cy="1420.6" r="2.2"/>
<circle class="f" cx="1165.9" cy="1399.1" r="2.2"/>
<circle class="f" cx="1152.3" cy="1422.7" r="2.2"/>
<circle class="f" cx="1169.7" cy="1401.3" r="2.2"/>
<circle class="f" cx="1156.1" cy="1424.9" r="2.2"/>
<circle class="f" cx="1173.4" cy="1403.4" r="2.2"/>
<circle class="f" cx="1159.8" cy="1427.0" r="2.2"/>
<circle class="f" cx="1177.1" cy="1405.6" r="2.2"/>
<circle class="f" cx="1163.5" cy="1429.2" r="2.2"/>
<circle class="f" cx="1180.8" cy="1407.7" r="2.2"/>
<circle class="f" cx="1167.2" cy="1431.3" r="2.2"/>
<circle class="f" cx="1184.5" cy="1409.8" r="2.2"/>
<circle class="f" cx="1170.9" cy="1433.4" r="2.2"/>
<circle class="f" cx="1188.2" cy="1412.0" r="2.2"/>
<circle class="f" cx="1174.6" cy="1435.6" r="2.2"/>
<circle class="f" cx="1191.9" cy="1414.1" r="2.2"/>
<circle class="f" cx="1178.3" cy="1437.7" r="2.2"/>
<circle class="f" cx="1195.7" cy="1416.3" r="2.2"/>
<circle class="f" cx="1182.1" cy="1439.9" r="2.2"/>
<circle class="f" cx="1199.4" cy="1418.4" r="2.2"/>
<circle class="f" cx="1185.8" cy="1442.0" r="2.2"/>
<circle class="f" cx="1203.1" cy="1420.6" r="2.2"/>
<circle class="f" cx="1189.5" cy="1444.2" r="2.2"/>
<circle class="f" cx="1206.8" cy="1422.7" r="2.2"/>
<circle class="f" cx="1193.2" cy="1446.3" r="2.2"/>
<path class="s" style="stroke-width:5.6;fill:#fff" d="M1126.0 1375.6 L1112.0 1367.2 C1111.1 1366.9 1108.1 1365.4 1106.4 1365.4 C1104.7 1365.4 1103.0 1366.1 1101.8 1367.2 C1100.5 1368.4 1099.6 1370.1 1099.0 1372.4 C1098.4 1374.6 1098.0 1378.1 1098.0 1380.7 C1098.0 1383.4 1098.4 1386.6 1099.0 1388.2 C1099.5 1389.8 1100.9 1389.9 1101.3 1390.2 L1115.7 1397.7"/>
<path class="s" style="stroke-width:5" d="M1128.8 1380.7 C1127.7 1381.8 1123.8 1385.1 1122.3 1387.3 C1120.7 1389.4 1119.8 1391.6 1119.5 1393.8 C1119.2 1396.0 1120.2 1399.2 1120.4 1400.3"/>
<path class="w" style="stroke-width:1.3" d="M1121.5 1395.2 C1121.8 1394.5 1122.5 1392.4 1123.4 1391.0 C1124.3 1389.6 1126.2 1387.5 1126.7 1386.8"/>
<path class="w" style="stroke-width:1.3" d="M1140.0 1403.1 C1140.3 1402.4 1141.0 1400.3 1141.9 1398.9 C1142.7 1397.5 1144.7 1395.4 1145.2 1394.7"/>
<path class="w" style="stroke-width:1.3" d="M1148.3 1407.8 C1148.6 1407.1 1149.3 1405.0 1150.1 1403.6 C1151.0 1402.2 1152.9 1400.1 1153.5 1399.4"/>
<path class="w" style="stroke-width:1.3" d="M1156.5 1412.4 C1156.8 1411.7 1157.5 1409.6 1158.4 1408.2 C1159.2 1406.8 1161.2 1404.7 1161.7 1404.0"/>
<path class="w" style="stroke-width:1.3" d="M1164.8 1417.1 C1165.1 1416.4 1165.7 1414.3 1166.6 1412.9 C1167.5 1411.5 1169.4 1409.4 1170.0 1408.7"/>
<path class="w" style="stroke-width:1.3" d="M1173.0 1421.7 C1173.3 1421.0 1174.0 1418.9 1174.9 1417.5 C1175.7 1416.1 1177.7 1414.1 1178.2 1413.4"/>
<path class="w" style="stroke-width:1.3" d="M1181.2 1426.4 C1181.6 1425.7 1182.2 1423.6 1183.1 1422.2 C1184.0 1420.8 1185.9 1418.7 1186.5 1418.0"/>
<path class="w" style="stroke-width:1.3" d="M1189.5 1431.1 C1189.8 1430.4 1190.5 1428.3 1191.4 1426.9 C1192.2 1425.5 1194.1 1423.4 1194.7 1422.7"/>
<path class="w" style="stroke-width:1.3" d="M1197.7 1435.7 C1198.0 1435.0 1198.7 1432.9 1199.6 1431.5 C1200.5 1430.1 1202.4 1428.0 1203.0 1427.3"/>
<path class="wf" d="M1196.8 1435.7 L1202.2 1427.8 L1206.1 1430.1 L1200.7 1438.0 Z"/>
<path class="f" style="stroke:#000;stroke-width:2.5;stroke-linejoin:round" d="M1226.6 1423.6 L1247.1 1435.7 L1248.0 1452.5 L1242.5 1461.8 L1228.5 1471.1 L1205.2 1458.1 L1201.5 1443.2 L1208.9 1430.1 L1221.0 1424.5 Z"/>
<path class="wf" d="M1213.6 1432.0 L1233.1 1442.2 L1228.5 1449.7 L1209.8 1438.5 Z"/>
<path class="w" style="stroke-width:1" d="M1220.1 1429.0 L1240.1 1439.6"/>
<path class="w" style="stroke-width:1" d="M1206.1 1451.4 L1226.1 1462.1"/>
<path class="w" style="stroke-width:1.2" d="M1234.1 1451.1 L1239.7 1448.8"/>
<path class="f" style="stroke:#000;stroke-width:2.5;stroke-linejoin:round" d="M1241.8 1455.9 L1245.8 1460.3 L1261.8 1460.8 L1259.5 1478.1 Z"/>
<path class="wf" d="M1253.6 1464.3 L1258.0 1464.3 L1257.3 1469.8 Z"/>
<path class="s" style="stroke-width:19;stroke-linecap:butt" d="M1261.8 1468.5 L1347.2 1518.6"/>
<circle class="f" cx="1268.5" cy="1463.1" r="6.4"/>
<circle class="f" cx="1262.3" cy="1478.1" r="6.4"/>
<circle class="f" cx="1278.2" cy="1468.8" r="6.4"/>
<circle class="f" cx="1272.0" cy="1483.8" r="6.4"/>
<circle class="f" cx="1287.9" cy="1474.4" r="6.4"/>
<circle class="f" cx="1281.7" cy="1489.4" r="6.4"/>
<circle class="f" cx="1297.6" cy="1480.0" r="6.4"/>
<circle class="f" cx="1291.4" cy="1495.0" r="6.4"/>
<circle class="f" cx="1307.3" cy="1485.6" r="6.4"/>
<circle class="f" cx="1301.1" cy="1500.6" r="6.4"/>
<circle class="f" cx="1316.9" cy="1491.3" r="6.4"/>
<circle class="f" cx="1310.7" cy="1506.3" r="6.4"/>
<circle class="f" cx="1326.6" cy="1496.9" r="6.4"/>
<circle class="f" cx="1320.4" cy="1511.9" r="6.4"/>
<circle class="f" cx="1336.3" cy="1502.5" r="6.4"/>
<circle class="f" cx="1330.1" cy="1517.5" r="6.4"/>
<circle class="f" cx="1346.0" cy="1508.1" r="6.4"/>
<circle class="f" cx="1339.8" cy="1523.1" r="6.4"/>
<circle class="f" cx="1355.7" cy="1513.8" r="6.4"/>
<circle class="f" cx="1349.5" cy="1528.8" r="6.4"/>
<ellipse class="wf" cx="1265.7" cy="1470.7" rx="1.9" ry="4.6" transform="rotate(24 1265.7 1470.7)"/>
<ellipse class="wf" cx="1275.4" cy="1476.4" rx="1.9" ry="4.6" transform="rotate(24 1275.4 1476.4)"/>
<ellipse class="wf" cx="1285.1" cy="1482.0" rx="1.9" ry="4.6" transform="rotate(24 1285.1 1482.0)"/>
<ellipse class="wf" cx="1294.8" cy="1487.6" rx="1.9" ry="4.6" transform="rotate(24 1294.8 1487.6)"/>
<ellipse class="wf" cx="1304.5" cy="1493.2" rx="1.9" ry="4.6" transform="rotate(24 1304.5 1493.2)"/>
<ellipse class="wf" cx="1314.1" cy="1498.9" rx="1.9" ry="4.6" transform="rotate(24 1314.1 1498.9)"/>
<ellipse class="wf" cx="1323.8" cy="1504.5" rx="1.9" ry="4.6" transform="rotate(24 1323.8 1504.5)"/>
<ellipse class="wf" cx="1333.5" cy="1510.1" rx="1.9" ry="4.6" transform="rotate(24 1333.5 1510.1)"/>
<ellipse class="wf" cx="1343.2" cy="1515.7" rx="1.9" ry="4.6" transform="rotate(24 1343.2 1515.7)"/>
<path class="s" style="stroke-width:4;fill:#fff" d="M1410.9 1540.8 L1352.9 1508.7  L1352.9 1508.7 C1351.9 1509.5 1348.5 1511.2 1347.2 1513.4 C1345.8 1515.7 1344.8 1519.0 1344.9 1522.0 C1345.0 1524.9 1347.3 1529.6 1347.7 1531.1 L1400.1 1560.7"/>
<path class="s" style="stroke-width:4.4;fill:#fff" d="M1412.6 1541.3 C1416.2 1539.1 1420.2 1537.7 1424.0 1537.9 C1427.8 1538.1 1432.6 1539.8 1435.4 1542.5 C1438.3 1545.1 1440.3 1550.1 1441.1 1553.9 C1441.9 1557.7 1441.1 1561.5 1440.0 1565.3 C1438.8 1569.1 1437.1 1573.6 1434.3 1576.6 C1431.4 1579.7 1426.9 1582.5 1422.9 1583.5 C1418.9 1584.4 1414.0 1583.9 1410.4 1582.3 C1406.8 1580.8 1403.2 1577.6 1401.3 1574.4 C1399.4 1571.1 1398.8 1566.8 1399.0 1563.0 C1399.2 1559.2 1400.1 1555.2 1402.4 1551.6 C1404.7 1548.0 1409.0 1543.6 1412.6 1541.3 Z"/>
<path class="s" style="stroke-width:7" d="M1433.7 1541.7 C1434.8 1543.5 1439.5 1548.8 1440.5 1552.7 C1441.6 1556.7 1441.0 1561.3 1440.0 1565.3 C1438.9 1569.2 1436.8 1573.6 1434.3 1576.6 C1431.7 1579.6 1426.2 1582.1 1424.6 1583.3"/>
<path class="s" style="stroke-width:3.4" d="M1422.3 1550.7 L1430.3 1548.7 L1433.7 1563.6 L1438.8 1559.6"/>
<path class="s" style="stroke-width:3.4" d="M1413.8 1567.0 L1428.6 1563.0 L1433.7 1563.6 L1431.1 1574.4 L1417.8 1576.6 L1413.8 1567.0"/>
<path class="s" style="stroke-width:2.4" d="M1427.4 1553.9 L1428.6 1563.0"/>
</g>
</g>
<!--KIT-->
<g id="kit">
<text x="1833" y="1261" font-family="'Liberation Sans',sans-serif" font-size="107" fill="#000" text-anchor="middle">3</text>
<path class="s" style="stroke-width:3;stroke-linecap:butt;stroke-linejoin:miter" d="M1836.4 1300.2 L1836.4 1340.4 M1625 1481 L1625 1340.4 L2046.5 1340.4 L2046.5 1480.5"/>
<path class="s" style="stroke-width:4.3;fill:#fff;stroke-linejoin:miter" d="M1687.2 1477.6 L1892.3 1359.2 L1892.3 1510.5 L1687.2 1628.9 Z"/>
<text transform="matrix(0.866,-0.5,0,1,1694.9,1506.9)" x="0" y="0" font-family="'Liberation Sans',sans-serif" font-size="27.4" font-weight="bold" font-style="italic" fill="#111" textLength="158" lengthAdjust="spacingAndGlyphs">REINIGUNGS</text>
<text transform="matrix(0.866,-0.5,0,1,1833.6,1426.9)" x="1.5" y="0" font-family="'Liberation Sans',sans-serif" font-size="27.4" font-style="italic" fill="#111" textLength="56" lengthAdjust="spacingAndGlyphs">TUCH</text>
<path class="s" style="stroke-width:4;fill:#fff;stroke:#1a1a1a;stroke-linejoin:miter" d="M1715.7 1535.4 L1730.6 1527.1 A9.4 9.4 0 0 0 1746.7 1517.7 L1908.3 1424.1 L1908.4 1591.7 L1743.4 1684.2 A9.6 9.6 0 0 0 1725.9 1694.2 L1715.5 1699.8 Z"/>
<path class="s" style="stroke-width:4.2;stroke-linejoin:round" d="M1716.4 1560.7 L1893.6 1457.1 L1894.3 1577.7 L1716.6 1679.3"/>
<text transform="matrix(0.866,-0.5,0,1,1780.4,1592.2)" x="0.5" y="0" font-family="'Liberation Sans',sans-serif" font-size="23.9" font-weight="bold" font-style="italic" fill="#111" textLength="61" lengthAdjust="spacingAndGlyphs">GLUE</text>
<path class="s" style="stroke-width:4.4;fill:#fff" d="M1939.4 1456.0 L1939.4 1572.0 L1939.4 1572.0 L1939.6 1573.5 L1940.0 1575.0 L1940.8 1576.5 L1941.8 1577.9 L1943.1 1579.2 L1944.7 1580.5 L1946.5 1581.7 L1948.6 1582.8 L1950.9 1583.7 L1953.3 1584.6 L1955.9 1585.2 L1958.6 1585.8 L1961.4 1586.2 L1964.3 1586.4 L1967.2 1586.5 L1970.1 1586.4 L1973.0 1586.2 L1975.8 1585.8 L1978.5 1585.2 L1981.1 1584.6 L1983.5 1583.7 L1985.8 1582.8 L1987.9 1581.7 L1989.7 1580.5 L1991.3 1579.2 L1992.6 1577.9 L1993.6 1576.5 L1994.4 1575.0 L1994.8 1573.5 L1995.0 1572.0 L1995.0 1456.0"/>
<path class="f" style="stroke:#000;stroke-width:1.5;stroke-linejoin:round" d="M1940.4 1448.9 L1938.3 1452.7 L1937.9 1461.0 L1937.9 1459.9 L1938.0 1461.1 L1938.5 1462.2 L1939.3 1463.3 L1940.4 1464.4 L1941.8 1465.4 L1943.4 1466.3 L1945.4 1467.2 L1947.5 1468.0 L1949.9 1468.7 L1952.5 1469.4 L1955.2 1469.9 L1958.0 1470.3 L1961.0 1470.6 L1964.0 1470.7 L1967.0 1470.8 L1970.1 1470.7 L1973.1 1470.6 L1976.1 1470.3 L1978.9 1469.9 L1981.6 1469.4 L1984.2 1468.7 L1986.6 1468.0 L1988.7 1467.2 L1990.7 1466.3 L1992.3 1465.4 L1993.7 1464.4 L1994.8 1463.3 L1995.6 1462.2 L1996.1 1461.1 L1996.2 1459.9 L1996.2 1461.0 L1995.8 1452.7 L1993.7 1448.9 L1991.7 1450.3 L1989.3 1453.2 L1989.3 1452.7 L1989.2 1453.7 L1988.8 1454.6 L1988.2 1455.6 L1987.4 1456.5 L1986.3 1457.3 L1985.1 1458.2 L1983.6 1458.9 L1981.9 1459.6 L1980.1 1460.2 L1978.2 1460.8 L1976.1 1461.2 L1973.9 1461.6 L1971.7 1461.8 L1969.4 1462.0 L1967.0 1462.0 L1964.7 1462.0 L1962.4 1461.8 L1960.2 1461.6 L1958.0 1461.2 L1955.9 1460.8 L1954.0 1460.2 L1952.2 1459.6 L1950.5 1458.9 L1949.0 1458.2 L1947.8 1457.3 L1946.7 1456.5 L1945.9 1455.6 L1945.3 1454.6 L1944.9 1453.7 L1944.8 1452.7 L1944.8 1453.2 L1942.4 1450.3 Z"/>
<path class="s" style="stroke:none;fill:#fff" d="M1942.4 1452.0 L1942.4 1452.0 L1942.5 1453.0 L1942.9 1454.1 L1943.6 1455.1 L1944.5 1456.1 L1945.7 1457.0 L1947.1 1457.9 L1948.7 1458.7 L1950.5 1459.4 L1952.5 1460.1 L1954.7 1460.7 L1957.0 1461.1 L1959.4 1461.5 L1961.9 1461.8 L1964.4 1461.9 L1967.0 1462.0 L1969.6 1461.9 L1972.1 1461.8 L1974.6 1461.5 L1977.0 1461.1 L1979.3 1460.7 L1981.5 1460.1 L1983.5 1459.4 L1985.3 1458.7 L1986.9 1457.9 L1988.3 1457.0 L1989.5 1456.1 L1990.4 1455.1 L1991.1 1454.1 L1991.5 1453.0 L1991.6 1452.0 L1991.7 1404.6 L1942.4 1404.6 Z"/>
<path class="s" style="stroke-width:4.4" d="M1942.4 1452 L1942.4 1404.6 M1991.7 1404.6 L1991.7 1452"/>
<path class="s" style="stroke-width:4.6;fill:#fff" d="M1991.7 1404.6 L1991.2 1406.8 L1989.6 1408.9 L1987.0 1410.8 L1983.5 1412.5 L1979.3 1413.8 L1974.6 1414.7 L1969.6 1415.1 L1964.4 1415.1 L1959.4 1414.7 L1954.7 1413.8 L1950.5 1412.5 L1947.0 1410.8 L1944.4 1408.9 L1942.8 1406.8 L1942.3 1404.6 L1942.8 1402.4 L1944.4 1400.3 L1947.0 1398.4 L1950.5 1396.7 L1954.7 1395.4 L1959.4 1394.5 L1964.4 1394.1 L1969.6 1394.1 L1974.6 1394.5 L1979.3 1395.4 L1983.5 1396.7 L1987.0 1398.4 L1989.6 1400.3 L1991.2 1402.4 L1991.7 1404.6 Z"/>
<path class="s" style="stroke:none;fill:#fff" d="M1946.1 1368.8 L1946.1 1401.0 L1946.1 1400.5 L1946.2 1401.4 L1946.6 1402.4 L1947.1 1403.3 L1947.9 1404.2 L1948.9 1405.0 L1950.1 1405.8 L1951.5 1406.5 L1953.0 1407.2 L1954.7 1407.8 L1956.5 1408.3 L1958.5 1408.7 L1960.5 1409.1 L1962.7 1409.3 L1964.8 1409.5 L1967.0 1409.5 L1969.2 1409.5 L1971.3 1409.3 L1973.5 1409.1 L1975.5 1408.7 L1977.5 1408.3 L1979.3 1407.8 L1981.0 1407.2 L1982.5 1406.5 L1983.9 1405.8 L1985.1 1405.0 L1986.1 1404.2 L1986.9 1403.3 L1987.4 1402.4 L1987.8 1401.4 L1987.9 1400.5 L1987.8 1368.8 Z"/>
<path class="s" style="stroke-width:4.4" d="M1946.1 1368.8 L1946.1 1401.0 L1946.1 1400.5 L1946.2 1401.4 L1946.6 1402.4 L1947.1 1403.3 L1947.9 1404.2 L1948.9 1405.0 L1950.1 1405.8 L1951.5 1406.5 L1953.0 1407.2 L1954.7 1407.8 L1956.5 1408.3 L1958.5 1408.7 L1960.5 1409.1 L1962.7 1409.3 L1964.8 1409.5 L1967.0 1409.5 L1969.2 1409.5 L1971.3 1409.3 L1973.5 1409.1 L1975.5 1408.7 L1977.5 1408.3 L1979.3 1407.8 L1981.0 1407.2 L1982.5 1406.5 L1983.9 1405.8 L1985.1 1405.0 L1986.1 1404.2 L1986.9 1403.3 L1987.4 1402.4 L1987.8 1401.4 L1987.9 1400.5 L1987.8 1368.8"/>
<path class="s" style="stroke-width:4.2;fill:#fff" d="M1987.9 1368.8 L1987.4 1370.7 L1986.1 1372.6 L1983.9 1374.3 L1981.0 1375.7 L1977.5 1376.9 L1973.5 1377.6 L1969.2 1378.0 L1964.8 1378.0 L1960.5 1377.6 L1956.5 1376.9 L1953.0 1375.7 L1950.1 1374.3 L1947.9 1372.6 L1946.6 1370.7 L1946.1 1368.8 L1946.6 1366.9 L1947.9 1365.0 L1950.1 1363.3 L1953.0 1361.9 L1956.5 1360.7 L1960.5 1360.0 L1964.8 1359.6 L1969.2 1359.6 L1973.5 1360.0 L1977.5 1360.7 L1981.0 1361.9 L1983.9 1363.3 L1986.1 1365.0 L1987.4 1366.9 L1987.9 1368.8 Z"/>
<path class="s" style="stroke-width:3.6" d="M1955.7 1392.7 L1955.6 1394.5 L1955.4 1396.2 L1955.1 1397.8 L1954.7 1399.1 L1954.1 1400.1 L1953.6 1400.9 L1952.9 1401.3 L1952.3 1401.3 L1951.6 1400.9 L1951.0 1400.1 L1950.5 1399.1 L1950.1 1397.8 L1949.8 1396.2 L1949.6 1394.5 L1949.5 1392.7 L1949.6 1390.9 L1949.8 1389.2 L1950.1 1387.6 L1950.5 1386.3 L1951.0 1385.3 L1951.6 1384.5 L1952.3 1384.1 L1952.9 1384.1 L1953.6 1384.5 L1954.1 1385.3 L1954.7 1386.3 L1955.1 1387.6 L1955.4 1389.2 L1955.6 1390.9 L1955.7 1392.7 Z"/>
<path class="s" style="stroke-width:4.2;fill:#808080" d="M1938.3 1606.6 L1690.5 1748.2 C1690.2 1749.4 1688.0 1751.3 1688.6 1755.7 C1689.3 1760.0 1691.4 1768.1 1694.2 1774.3 C1697.0 1780.5 1701.7 1787.8 1705.4 1792.9 C1709.1 1798.0 1713.6 1802.7 1716.6 1805.0 C1719.5 1807.4 1722.0 1806.6 1723.1 1806.9 L1964.4 1667.1 Z"/>
<path class="s" style="stroke-width:3.4" d="M1920.6 1614.4 C1921.6 1614.8 1924.5 1612.9 1926.2 1616.8 C1927.9 1620.8 1928.5 1631.3 1930.9 1638.3 C1933.2 1645.2 1936.9 1652.8 1940.2 1658.8 C1943.4 1664.7 1948.7 1671.5 1950.4 1674.0"/>
<path class="s" style="stroke-width:4.2;fill:#808080" d="M1928.1 1602.9 L1940.2 1605.3 L1968.1 1597.3 L1984.5 1594.7 L1977.2 1600.8 L1986.7 1600.9 L1979.4 1607.1 L1988.9 1607.2 L1981.6 1613.4 L1991.1 1613.5 L1983.7 1619.6 L1993.3 1619.8 L1985.9 1625.9 L1995.4 1626.1 L1988.1 1632.2 L1997.6 1632.4 L1990.3 1638.5 L1999.8 1638.6 L1992.5 1644.8 L2002.0 1644.9 L1994.7 1651.1 L2004.2 1651.2 L1996.8 1657.3 L2006.4 1657.5 L1999.0 1663.6 L2008.5 1663.8 L2001.2 1669.9 L2010.7 1670.0 L2003.4 1676.2 L2012.9 1676.3 L2005.6 1682.5 L2015.1 1682.6 L1986.8 1690.4 L1966.3 1700.7 Z"/>
<path class="s" style="stroke-width:5.5" d="M1984.5 1594.7 L1977.2 1600.8 L1986.7 1600.9 L1979.4 1607.1 L1988.9 1607.2 L1981.6 1613.4 L1991.1 1613.5 L1983.7 1619.6 L1993.3 1619.8 L1985.9 1625.9 L1995.4 1626.1 L1988.1 1632.2 L1997.6 1632.4 L1990.3 1638.5 L1999.8 1638.6 L1992.5 1644.8 L2002.0 1644.9 L1994.7 1651.1 L2004.2 1651.2 L1996.8 1657.3 L2006.4 1657.5 L1999.0 1663.6 L2008.5 1663.8 L2001.2 1669.9 L2010.7 1670.0 L2003.4 1676.2 L2012.9 1676.3 L2005.6 1682.5 L2015.1 1682.6"/>
</g>
</svg>
</body></html>
